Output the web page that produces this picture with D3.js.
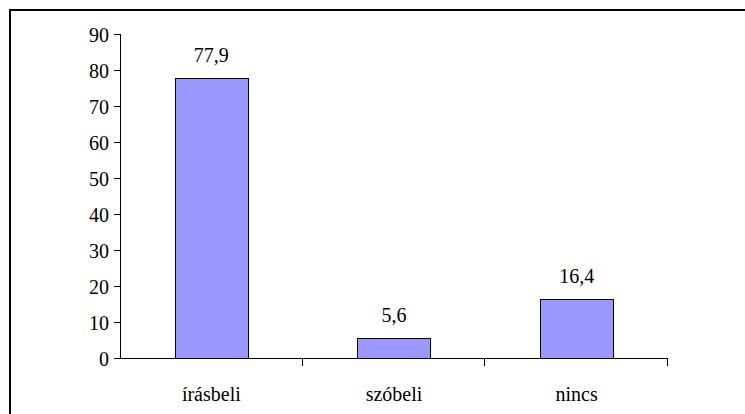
<!DOCTYPE html>
<html>
<head>
<meta charset="utf-8">
<script src="https://cdn.jsdelivr.net/npm/d3@7"></script>
<style>
  body { margin: 0; background: #fff; }
  svg { display: block; }
</style>
</head>
<body>
<div id="chart"></div>
<script>
var categories = ["írásbeli", "szóbeli", "nincs"];
var values = [77.9, 5.6, 16.4];
var labels = ["77,9", "5,6", "16,4"];
var yTicks = [0, 10, 20, 30, 40, 50, 60, 70, 80, 90];

var font = "Liberation Serif, DejaVu Serif, serif";

chart();

function chart() {
  var width = 745, height = 414;
  var margin = {top: 34, right: 77, bottom: 56, left: 120};
  var gwidth = width - margin.left - margin.right,
      gheight = height - margin.top - margin.bottom;

  var svg = d3.select("#chart").append("svg")
    .attr("width", width)
    .attr("height", height);

  // frame (right and bottom edges fall outside the picture)
  svg.append("rect")
    .attr("x", 10)
    .attr("y", 10)
    .attr("width", 780)
    .attr("height", 440)
    .style("fill", "none")
    .style("stroke", "#000")
    .style("stroke-width", 2);

  var g = svg.append("g")
    .attr("transform", "translate(" + margin.left + "," + margin.top + ")")
    .attr("font-family", font);

  var x = d3.scaleBand()
    .domain(categories)
    .range([0, gwidth])
    .paddingInner(0.6)
    .paddingOuter(0.3);

  var y = d3.scaleLinear()
    .domain([0, 90])
    .range([gheight, 0]);

  g.selectAll("rect.bar")
    .data(values).enter()
    .append("rect")
    .attr("class", "bar")
    .attr("x", function(d, i) { return Math.round(x(categories[i])) + 0.5; })
    .attr("y", function(d) { return Math.round(y(d)) + 0.5; })
    .attr("width", Math.round(x.bandwidth()))
    .attr("height", function(d) { return Math.round(y(0)) - Math.round(y(d)); })
    .style("fill", "#9999ff")
    .style("stroke", "#000")
    .style("stroke-width", 1);

  g.selectAll("text.val")
    .data(values).enter()
    .append("text")
    .attr("class", "val")
    .attr("x", function(d, i) { return x(categories[i]) + x.bandwidth() / 2; })
    .attr("y", function(d) { return y(d) - 16; })
    .attr("font-family", font)
    .style("text-anchor", "middle")
    .style("font-size", "20px")
    .text(function(d, i) { return labels[i]; });

  // y axis
  var yAxis = g.append("g")
    .call(d3.axisLeft(y).tickValues(yTicks).tickSize(6).tickPadding(5).tickFormat(d3.format("d")))
    .attr("font-family", font)
    .attr("font-size", 20);
  yAxis.select(".domain").attr("d", "M0.5," + (gheight + 0.5) + "V0").style("stroke", "#000");
  yAxis.selectAll("text").attr("dy", "0.35em");

  // x axis with ticks between categories
  var xg = g.append("g")
    .attr("transform", "translate(0," + gheight + ")");
  xg.append("line")
    .attr("x1", 0).attr("x2", gwidth)
    .attr("y1", 0.5).attr("y2", 0.5)
    .style("stroke", "#000");
  xg.selectAll("line.tick")
    .data(categories).enter()
    .append("line")
    .attr("class", "tick")
    .attr("x1", function(d) { return Math.round(x(d) + x.bandwidth() + x.step() * x.paddingInner() / 2) - 0.5; })
    .attr("x2", function(d) { return Math.round(x(d) + x.bandwidth() + x.step() * x.paddingInner() / 2) - 0.5; })
    .attr("y1", 0)
    .attr("y2", 8)
    .style("stroke", "#000");
  xg.selectAll("text")
    .data(categories).enter()
    .append("text")
    .attr("x", function(d) { return x(d) + x.bandwidth() / 2; })
    .attr("y", 43)
    .attr("font-family", font)
    .style("text-anchor", "middle")
    .style("font-size", "20px")
    .text(function(d) { return d; });
}
</script>
</body>
</html>
